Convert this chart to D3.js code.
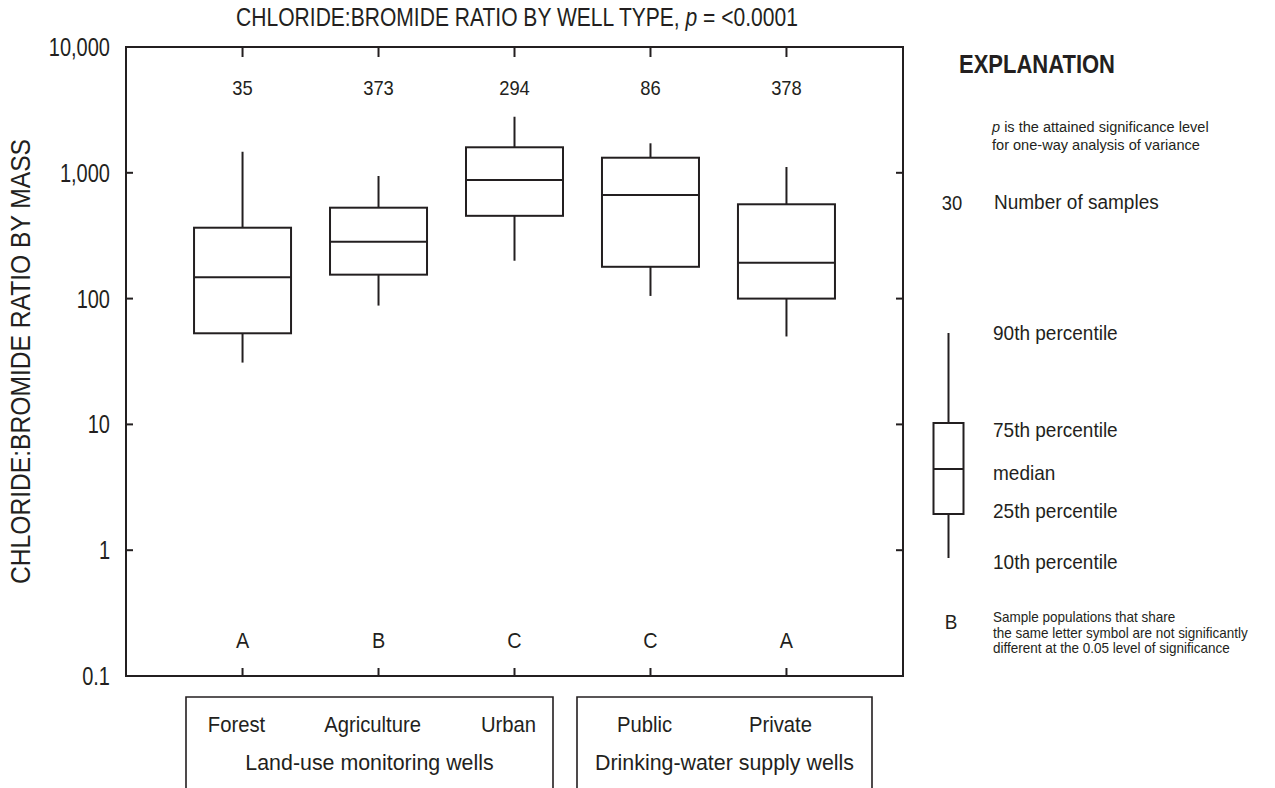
<!DOCTYPE html>
<html>
<head>
<meta charset="utf-8">
<script src="https://cdn.jsdelivr.net/npm/d3@7"></script>
<style>
  body { margin: 0; background: #fff; }
  svg { display: block; font-family: "Liberation Sans", Arial, sans-serif; }
  text { fill: #231f20; }
</style>
</head>
<body>
<script>
// data
const categories = ["Forest", "Agriculture", "Urban", "Public", "Private"];
const groups = ["land", "land", "land", "drink", "drink"];
const counts = [35, 373, 294, 86, 378];
const letters = ["A", "B", "C", "C", "A"];
const p10 = [31, 88, 200, 105, 50];
const p25 = [53, 155, 455, 179, 100];
const median = [148, 283, 877, 666, 193];
const p75 = [366, 528, 1595, 1318, 562];
const p90 = [1470, 943, 2790, 1716, 1112];
const yTicks = [0.1, 1, 10, 100, 1000, 10000];
const groupNames = {land: "Land-use monitoring wells", drink: "Drinking-water supply wells"};

const W = 1275, H = 788;
const plotL = 126, plotR = 903, plotT = 47, plotB = 676;
const ink = "#231f20";

const svg = d3.select("body").append("svg").attr("width", W).attr("height", H);

// the original uses a condensed face; squeeze the glyphs horizontally
function squeeze(sel, sx) {
  sel.each(function() {
    const w = this.getComputedTextLength();
    this.setAttribute("textLength", w * sx);
    this.setAttribute("lengthAdjust", "spacingAndGlyphs");
  });
  return sel;
}

const x = d3.scalePoint().domain(categories).range([plotL, plotR]).padding(0.857);
const y = d3.scaleLog().domain([0.1, 10000]).range([plotB, plotT]);

const rows = categories.map((c, i) => ({
  cat: c, group: groups[i], n: counts[i], letter: letters[i],
  p10: p10[i], p25: p25[i], med: median[i], p75: p75[i], p90: p90[i]
}));

// frame
svg.append("rect")
  .attr("x", plotL).attr("y", plotT)
  .attr("width", plotR - plotL).attr("height", plotB - plotT)
  .attr("fill", "none").attr("stroke", ink).attr("stroke-width", 2);

// y ticks on both sides (inward)
svg.append("g").selectAll("line").data(yTicks).join("line")
  .attr("x1", plotL).attr("x2", plotL + 7)
  .attr("y1", d => y(d)).attr("y2", d => y(d))
  .attr("stroke", ink).attr("stroke-width", 2);
svg.append("g").selectAll("line").data(yTicks).join("line")
  .attr("x1", plotR).attr("x2", plotR - 7)
  .attr("y1", d => y(d)).attr("y2", d => y(d))
  .attr("stroke", ink).attr("stroke-width", 2);

const fmt = d => d < 1 ? "0.1" : d3.format(",")(d);
squeeze(svg.append("g").selectAll("text").data(yTicks).join("text")
  .attr("x", 110).attr("y", d => y(d))
  .attr("dy", "0.36em").attr("text-anchor", "end")
  .attr("font-size", 25)
  .text(fmt), 0.8);

// x ticks top and bottom (inward)
svg.append("g").selectAll("line").data(categories).join("line")
  .attr("x1", d => x(d)).attr("x2", d => x(d))
  .attr("y1", plotT).attr("y2", plotT + 10)
  .attr("stroke", ink).attr("stroke-width", 2);
svg.append("g").selectAll("line").data(categories).join("line")
  .attr("x1", d => x(d)).attr("x2", d => x(d))
  .attr("y1", plotB).attr("y2", plotB - 8)
  .attr("stroke", ink).attr("stroke-width", 2);

// boxes
const bw = 97;
const box = svg.append("g").selectAll("g").data(rows).join("g");
box.append("line")
  .attr("x1", d => x(d.cat)).attr("x2", d => x(d.cat))
  .attr("y1", d => y(d.p90)).attr("y2", d => y(d.p75))
  .attr("stroke", ink).attr("stroke-width", 2);
box.append("line")
  .attr("x1", d => x(d.cat)).attr("x2", d => x(d.cat))
  .attr("y1", d => y(d.p25)).attr("y2", d => y(d.p10))
  .attr("stroke", ink).attr("stroke-width", 2);
box.append("rect")
  .attr("x", d => x(d.cat) - bw / 2).attr("width", bw)
  .attr("y", d => y(d.p75)).attr("height", d => y(d.p25) - y(d.p75))
  .attr("fill", "none").attr("stroke", ink).attr("stroke-width", 2);
box.append("line")
  .attr("x1", d => x(d.cat) - bw / 2).attr("x2", d => x(d.cat) + bw / 2)
  .attr("y1", d => y(d.med)).attr("y2", d => y(d.med))
  .attr("stroke", ink).attr("stroke-width", 2);

// counts and letters
squeeze(svg.append("g").selectAll("text").data(rows).join("text")
  .attr("x", d => x(d.cat)).attr("y", 87).attr("dy", "0.36em")
  .attr("text-anchor", "middle").attr("font-size", 21)
  .text(d => d.n), 0.875);
squeeze(svg.append("g").selectAll("text").data(rows).join("text")
  .attr("x", d => x(d.cat)).attr("y", 640).attr("dy", "0.36em")
  .attr("text-anchor", "middle").attr("font-size", 22)
  .text(d => d.letter), 0.9);

// title (mixed italic, so squeeze with a transform instead of textLength)
const title = svg.append("g").attr("transform", "translate(517,26) scale(0.81,1)")
  .append("text").attr("text-anchor", "middle").attr("font-size", 26);
title.append("tspan").text("CHLORIDE:BROMIDE RATIO BY WELL TYPE, ");
title.append("tspan").attr("font-style", "italic").text("p");
title.append("tspan").text(" = <0.0001");

// y axis title
svg.append("text")
  .attr("transform", `translate(20,${(plotT + plotB) / 2}) rotate(-90)`)
  .attr("dy", "0.36em")
  .attr("text-anchor", "middle").attr("font-size", 27)
  .attr("textLength", 445).attr("lengthAdjust", "spacingAndGlyphs")
  .text("CHLORIDE:BROMIDE RATIO BY MASS");

// category group boxes below
const groupKeys = ["land", "drink"];
const gx = {land: [186, 553], drink: [577, 872]};
groupKeys.forEach(k => {
  const [a, b] = gx[k];
  svg.append("path")
    .attr("d", `M${a},${H + 5}V697H${b}V${H + 5}`)
    .attr("fill", "none").attr("stroke", ink).attr("stroke-width", 1.6);
  squeeze(svg.append("text").attr("x", (a + b) / 2).attr("y", 762).attr("dy", "0.36em")
    .attr("text-anchor", "middle").attr("font-size", 22.5)
    .text(groupNames[k]), 0.95);
});
squeeze(svg.append("g").selectAll("text").data(rows).join("text")
  .attr("x", d => x(d.cat) - 6).attr("y", 724).attr("dy", "0.36em")
  .attr("text-anchor", "middle").attr("font-size", 22)
  .text(d => d.cat), 0.92);

// explanation
const lx = 948.5, tx = 993;
svg.append("text").attr("x", 959).attr("y", 64).attr("dy", "0.36em")
  .attr("font-size", 25.5).attr("font-weight", "bold")
  .attr("textLength", 156).attr("lengthAdjust", "spacingAndGlyphs")
  .text("EXPLANATION");
const pl = svg.append("g").attr("transform", "translate(992,127) scale(0.97,1)")
  .append("text").attr("dy", "0.36em").attr("font-size", 15);
pl.append("tspan").attr("font-style", "italic").text("p");
pl.append("tspan").text(" is the attained significance level");
squeeze(svg.append("text").attr("x", 992).attr("y", 145).attr("dy", "0.36em").attr("font-size", 15)
  .text("for one-way analysis of variance"), 0.97);
squeeze(svg.append("text").attr("x", 952).attr("y", 202).attr("dy", "0.36em")
  .attr("text-anchor", "middle").attr("font-size", 21).text("30"), 0.875);
squeeze(svg.append("text").attr("x", 994).attr("y", 202).attr("dy", "0.36em")
  .attr("font-size", 20).text("Number of samples"), 0.95);

// legend box
const legendStats = ["90th percentile", "75th percentile", "median", "25th percentile", "10th percentile"];
const legendY = [333, 423, 469, 514, 558];
const labelY = [332, 429, 472, 510, 561];
const ly = d3.scaleOrdinal().domain(legendStats).range(legendY);
svg.append("line").attr("x1", lx).attr("x2", lx)
  .attr("y1", ly("90th percentile")).attr("y2", ly("75th percentile"))
  .attr("stroke", ink).attr("stroke-width", 2);
svg.append("line").attr("x1", lx).attr("x2", lx)
  .attr("y1", ly("25th percentile")).attr("y2", ly("10th percentile"))
  .attr("stroke", ink).attr("stroke-width", 2);
svg.append("rect").attr("x", lx - 15).attr("width", 30)
  .attr("y", ly("75th percentile")).attr("height", ly("25th percentile") - ly("75th percentile"))
  .attr("fill", "none").attr("stroke", ink).attr("stroke-width", 2);
svg.append("line").attr("x1", lx - 15).attr("x2", lx + 15)
  .attr("y1", ly("median")).attr("y2", ly("median"))
  .attr("stroke", ink).attr("stroke-width", 2);
squeeze(svg.append("g").selectAll("text").data(legendStats).join("text")
  .attr("x", tx).attr("y", (d, i) => labelY[i]).attr("dy", "0.36em")
  .attr("font-size", 21).text(d => d), 0.905);

squeeze(svg.append("text").attr("x", 951).attr("y", 621).attr("dy", "0.36em")
  .attr("text-anchor", "middle").attr("font-size", 21).text("B"), 0.9);
["Sample populations that share",
 "the same letter symbol are not significantly",
 "different at the 0.05 level of significance"].forEach((t, i) => {
  squeeze(svg.append("text").attr("x", tx).attr("y", 617 + i * 15.5).attr("dy", "0.36em")
    .attr("font-size", 14.5).text(t), 0.93);
});
</script>
</body>
</html>
